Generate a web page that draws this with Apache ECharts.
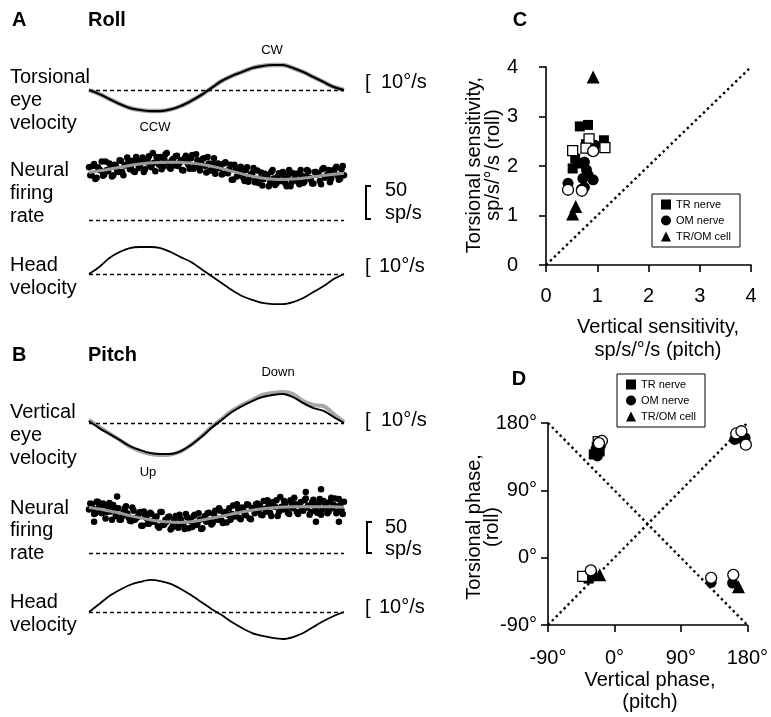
<!DOCTYPE html>
<html>
<head>
<meta charset="utf-8">
<script src="https://cdn.jsdelivr.net/npm/echarts@6.0.0/dist/echarts.min.js"></script>
<style>
html, body { margin: 0; padding: 0; background: #fff; }
#chart { width: 771px; height: 717px; }
</style>
</head>
<body>
<div id="chart"></div>
<script>
// sample positions (% of one stimulus cycle) of the eye / head traces
const tracePhase = [0,4,8,12,16,20,24,28,32,36,40,44,48,52,56,60,64,68,72,76,80,84,88,92,96,100];
// velocities in deg/s
const rollEye = [0,-2.2,-5,-7.8,-10,-11.1,-11.7,-11.7,-10.8,-8.9,-6.1,-2.8,1.1,5,7.8,10,12.2,13.3,13.9,13.9,12.2,10,7.2,4.4,1.7,0];
const rollHead = [0,3.9,8.9,12.2,14.4,15,15,14.4,12.2,9.4,6.7,2.8,-1.1,-5,-8.9,-12.2,-14.4,-16.1,-16.7,-16.7,-15.6,-13.3,-10,-6.7,-2.8,0];
const pitchEye = [1.1,-2.8,-6.1,-9.4,-12.8,-15,-16.7,-17.2,-17.2,-15.6,-12.2,-7.8,-2.8,1.7,6.1,9.4,12.2,14.4,15.6,16.1,14.4,11.1,8.3,6.7,3.3,0];
const pitchEyeRaw = [1.7,-2.2,-5.8,-9.4,-13.1,-15.6,-17.2,-17.8,-17.5,-15.8,-12.2,-7.5,-2.2,2.2,6.7,10,12.8,15.6,16.7,17.2,16.1,12.2,10,9.4,5,0.5];
const pitchHead = [0,4.4,8.9,12.2,15,16.7,17.8,17.2,15.6,12.8,9.4,5.6,1.7,-1.7,-5.6,-8.9,-11.7,-13.3,-14.4,-15,-13.9,-11.7,-8.3,-5,-2.2,0];

// fitted firing rate (sp/s)
const fitPhase = [0,5,10,15,20,25,30,35,40,45,50,55,60,65,70,75,80,85,90,95,100];
const rollFit = [73,76,79.5,83,86,88,89,89,87.5,85,81,76,71,66.5,63.5,62.5,63,65,67.5,70,72];
const pitchFit = [70,67,63,58.5,54,50.5,48,47,48,51,55,59,63,66.5,69,70.5,71,71,71,71,70.5];

// instantaneous firing rate, one value per 1% of the cycle (sp/s)
const rollRate = [81,69,86,65,78,90,70,77,87,67,
  85,77,92,74,84,96,78,91,74,89,
  84,96,78,93,84,103,75,89,97,82,
  101,88,79,94,98,83,92,76,99,85,
  95,79,101,81,86,95,73,87,76,95,
  79,86,70,87,73,78,62,85,67,80,
  72,60,81,65,72,58,76,64,53,71,
  66,57,77,54,67,60,74,56,69,52,
  72,63,59,77,57,67,75,62,56,74,
  72,55,80,67,77,64,73,82,62,78,
  69];
// second spike-rate sample, offset by half a step
const rollRate2 = [69,83,63,81,76,68,90,75,85,69,
  84,74,91,69,85,91,83,75,97,80,
  92,74,89,98,81,88,97,85,78,94,
  103,81,92,84,99,88,77,95,89,79,
  100,83,92,76,94,83,97,76,86,71,
  87,80,71,89,72,85,62,78,72,82,
  65,77,59,70,80,63,57,73,63,69,
  52,74,64,56,72,60,69,52,77,58,
  63,71,55,68,59,77,65,56,74,70,
  60,78,65,70,58,76,79,68,64,83];
const pitchRate = [67,75,60,79,71,61,74,63,77,51,
  68,69,51,56,69,61,50,70,51,55,
  63,42,59,45,62,49,54,41,63,43,
  51,55,36,46,57,39,52,44,60,38,
  49,57,43,61,37,53,48,62,44,60,
  53,69,50,61,47,69,60,56,75,54,
  70,61,75,53,69,61,76,73,58,68,
  81,62,78,71,57,86,67,77,62,81,
  69,75,60,78,65,84,73,63,82,68,
  76,59,80,71,64,85,74,61,83,66,
  79];
const pitchRate2 = [76,69,61,79,63,76,53,69,64,74,
  57,69,51,62,72,55,49,65,54,60,
  42,64,54,45,60,48,56,39,63,44,
  48,56,39,51,41,59,46,37,55,51,
  40,59,45,51,38,57,61,50,46,65,
  51,65,46,63,59,51,73,59,68,52,
  67,58,74,52,69,75,66,59,80,64,
  75,57,72,81,63,71,80,68,60,76,
  85,63,74,66,81,70,59,78,72,62,
  83,67,76,61,79,69,84,64,74,60];
const pitchRateExtra = [[11,87],[91,98],[85,94],[98,48],[89,48],[2,48]];

// C: [vertical sensitivity, torsional sensitivity]
const sensTR = [[0.66,2.8],[0.82,2.83],[1.13,2.52],[0.78,2.44],[0.57,2.15],[0.52,1.95],[0.62,2.05]];
const sensTROpen = [[0.84,2.55],[1.15,2.37],[0.52,2.31],[0.78,2.36]];
const sensOM = [[0.95,2.42],[0.75,2.08],[0.79,1.92],[0.82,1.82],[0.72,1.75],[0.92,1.72],[0.75,1.57],[0.69,1.53],[0.43,1.65]];
const sensOMOpen = [[0.92,2.3],[0.43,1.52],[0.7,1.5]];
const sensCell = [[0.92,3.8],[0.58,1.18],[0.52,1.03]];
const sensTicks = [0, 4];
const unityLine = [[0,0],[4,4]];

// D: [vertical phase, torsional phase] in deg
const phaseTR = [[-28,138],[-24,148],[-20,142],[167,162],[-35,-28],[-30,-24]];
const phaseTROpen = [[-22,155],[-43,-25]];
const phaseOM = [[-25,145],[-19,150],[-23,136],[163,158],[170,160],[177,160],[-33,-27],[131,-33],[160,-34]];
const phaseOMOpen = [[-17,156],[-21,153],[165,166],[172,169],[178,151],[-32,-17],[131,-27],[161,-23]];
const phaseCell = [[-20,-23],[168,-39]];
const phaseTicks = [-90, 180];
const phaseLineA = [[-90,-90],[180,180]];
const phaseLineB = [[-90,180],[180,-90]];

const FONT = "'Liberation Sans', Arial, Helvetica, sans-serif";
const chart = echarts.init(document.getElementById('chart'));

// trace panels: baseline pixel y for each grid
const traceBase = [90, 220, 274, 423, 553, 612];
const traceKind = ['eye', 'rate', 'eye', 'eye', 'rate', 'eye'];
const grids = [], xAxes = [], yAxes = [];
traceBase.forEach((b, i) => {
    if (traceKind[i] === 'eye') {
        grids.push({ left: 89, width: 255, top: b - 36, height: 72 });
        yAxes.push({ gridIndex: i, type: 'value', min: -20, max: 20, show: false });
    } else {
        grids.push({ left: 89, width: 255, top: b - 78, height: 78 });
        yAxes.push({ gridIndex: i, type: 'value', min: 0, max: 120, show: false });
    }
    xAxes.push({ gridIndex: i, type: 'value', min: 0, max: 100, show: false });
});

const axisBase = {
    type: 'value',
    splitLine: { show: false },
    axisLine: { show: true, onZero: false, lineStyle: { color: '#000', width: 1.6 } },
    axisTick: { show: true, length: 7, lineStyle: { color: '#000', width: 1.6 } },
};
// C
grids.push({ left: 546, top: 67, width: 205, height: 198 });
xAxes.push(Object.assign({}, axisBase, { gridIndex: 6, min: sensTicks[0], max: sensTicks[1], interval: 1,
    axisLabel: { margin: 21, fontSize: 20, color: '#000', fontFamily: FONT, showMinLabel: true, showMaxLabel: true } }));
yAxes.push(Object.assign({}, axisBase, { gridIndex: 6, min: sensTicks[0], max: sensTicks[1], interval: 1,
    axisLabel: { margin: 28, fontSize: 20, color: '#000', fontFamily: FONT, showMinLabel: true, showMaxLabel: true } }));
// D
grids.push({ left: 548, top: 423, width: 201, height: 202 });
xAxes.push(Object.assign({}, axisBase, { gridIndex: 7, min: phaseTicks[0], max: phaseTicks[1], interval: 90,
    axisLabel: { margin: 23, fontSize: 20, color: '#000', fontFamily: FONT, formatter: v => v + '°', showMinLabel: true, showMaxLabel: true } }));
yAxes.push(Object.assign({}, axisBase, { gridIndex: 7, min: phaseTicks[0], max: phaseTicks[1], interval: 90,
    axisLabel: { margin: 11, fontSize: 20, color: '#000', fontFamily: FONT, formatter: v => v + '°', showMinLabel: true, showMaxLabel: true } }));

const dashed = {
    symbol: 'none', silent: true, label: { show: false },
    lineStyle: { color: '#000', type: [4, 3], width: 1.3 },
    data: [{ yAxis: 0 }]
};
function trace(g, xs, ys, color, width, z, base) {
    const s = {
        type: 'line', xAxisIndex: g, yAxisIndex: g, z: z, smooth: 0.3, symbol: 'none',
        data: xs.map((x, i) => [x, ys[i]]),
        lineStyle: { color: color, width: width }
    };
    if (base) s.markLine = dashed;
    return s;
}
function dots(g, ys, ys2, extra) {
    let d = ys.map((v, i) => [i, v]).concat(ys2.map((v, i) => [i + 0.5, v]));
    if (extra) d = d.concat(extra);
    return {
        type: 'scatter', xAxisIndex: g, yAxisIndex: g, z: 2, symbolSize: 6.5,
        data: d, itemStyle: { color: '#000', opacity: 1 }
    };
}
function pts(g, name, data, symbol, size, open) {
    return {
        type: 'scatter', name: name, xAxisIndex: g, yAxisIndex: g, symbol: symbol, symbolSize: size,
        z: open ? 4 : 3, data: data,
        itemStyle: open ? { color: '#fff', borderColor: '#000', borderWidth: 1.3, opacity: 1 }
                        : { color: '#000', opacity: 1 }
    };
}
function diag(g, data) {
    return {
        type: 'line', xAxisIndex: g, yAxisIndex: g, z: 1, symbol: 'none', data: data,
        lineStyle: { color: '#000', width: 2.4, type: [2.4, 3.2] }
    };
}

const series = [
    trace(0, tracePhase, rollEye, '#a8a8a8', 4.5, 2, true),
    trace(0, tracePhase, rollEye, '#000', 2.2, 3),
    dots(1, rollRate, rollRate2),
    trace(1, fitPhase, rollFit, '#9a9a9a', 3, 3, true),
    trace(2, tracePhase, rollHead, '#000', 1.8, 3, true),
    trace(3, tracePhase, pitchEyeRaw, '#a8a8a8', 4, 2, true),
    trace(3, tracePhase, pitchEye, '#000', 2, 3),
    dots(4, pitchRate, pitchRate2, pitchRateExtra),
    trace(4, fitPhase, pitchFit, '#9a9a9a', 3, 3, true),
    trace(5, tracePhase, pitchHead, '#000', 1.8, 3, true),

    diag(6, unityLine),
    pts(6, 'TR nerve', sensTR, 'rect', 10, false),
    pts(6, 'TR nerve open', sensTROpen, 'rect', 10, true),
    pts(6, 'OM nerve', sensOM, 'circle', 11, false),
    pts(6, 'OM nerve open', sensOMOpen, 'circle', 11, true),
    pts(6, 'TR/OM cell', sensCell, 'triangle', 13, false),

    diag(7, phaseLineA),
    diag(7, phaseLineB),
    pts(7, 'TR nerve', phaseTR, 'rect', 10, false),
    pts(7, 'TR nerve open', phaseTROpen, 'rect', 10, true),
    pts(7, 'OM nerve', phaseOM, 'circle', 11, false),
    pts(7, 'OM nerve open', phaseOMOpen, 'circle', 11, true),
    pts(7, 'TR/OM cell', phaseCell, 'triangle', 13, false),
];

const legendItems = [
    { name: 'TR nerve', icon: 'rect' },
    { name: 'OM nerve', icon: 'circle' },
    { name: 'TR/OM cell', icon: 'triangle' }
];
const legendBase = {
    orient: 'vertical', data: legendItems, selectedMode: false,
    itemWidth: 10, itemHeight: 10, itemGap: 5,
    borderColor: '#000', borderWidth: 1, padding: [5, 9, 5, 9],
    textStyle: { fontSize: 11, color: '#000', fontFamily: FONT }
};

function txt(text, x, y, size, opt) {
    opt = opt || {};
    return {
        type: 'text', x: x, y: y, rotation: opt.rot || 0, silent: true,
        style: {
            text: text, fill: '#000', fontSize: size, fontFamily: FONT,
            fontWeight: opt.bold ? 'bold' : 'normal',
            align: opt.align || 'left', verticalAlign: 'middle',
            textAlign: opt.align || 'left', textVerticalAlign: 'middle'
        }
    };
}
const graphics = [
    txt('A', 12, 20, 20, { bold: true }), txt('Roll', 88, 20, 20, { bold: true }),
    txt('B', 12, 355, 20, { bold: true }), txt('Pitch', 88, 355, 20, { bold: true }),
    txt('C', 520, 20, 20, { bold: true, align: 'center' }),
    txt('D', 519, 379, 20, { bold: true, align: 'center' }),

    txt('Torsional', 10, 77, 20), txt('eye', 10, 100, 20), txt('velocity', 10, 123, 20),
    txt('Neural', 10, 170, 20), txt('firing', 10, 193, 20), txt('rate', 10, 216, 20),
    txt('Head', 10, 265, 20), txt('velocity', 10, 288, 20),
    txt('Vertical', 10, 412, 20), txt('eye', 10, 435, 20), txt('velocity', 10, 458, 20),
    txt('Neural', 10, 508, 20), txt('firing', 10, 530, 20), txt('rate', 10, 553, 20),
    txt('Head', 10, 602, 20), txt('velocity', 10, 625, 20),

    txt('CW', 272, 50, 13, { align: 'center' }), txt('CCW', 155, 127, 13, { align: 'center' }),
    txt('Down', 278, 372, 13, { align: 'center' }), txt('Up', 148, 472, 13, { align: 'center' }),

    txt('[', 365, 83, 20), txt('10°/s', 381, 82, 20),
    txt('[', 365, 267, 20), txt('10°/s', 379, 266, 20),
    txt('[', 365, 421, 20), txt('10°/s', 381, 420, 20),
    txt('[', 365, 608, 20), txt('10°/s', 379, 607, 20),
    { type: 'polyline', silent: true, shape: { points: [[371, 186], [366, 186], [366, 219], [371, 219]] },
      style: { stroke: '#000', lineWidth: 2, fill: null } },
    txt('50', 385, 190, 20), txt('sp/s', 385, 213, 20),
    { type: 'polyline', silent: true, shape: { points: [[372, 522], [367, 522], [367, 553], [372, 553]] },
      style: { stroke: '#000', lineWidth: 2, fill: null } },
    txt('50', 385, 527, 20), txt('sp/s', 385, 549, 20),

    txt('Torsional sensitivity,', 474, 165, 20, { align: 'center', rot: Math.PI / 2 }),
    txt('sp/s/°/s (roll)', 493, 165, 20, { align: 'center', rot: Math.PI / 2 }),
    txt('Vertical sensitivity,', 658, 327, 20, { align: 'center' }),
    txt('sp/s/°/s (pitch)', 658, 350, 20, { align: 'center' }),
    txt('Torsional phase,', 474, 527, 20, { align: 'center', rot: Math.PI / 2 }),
    txt('(roll)', 492, 527, 20, { align: 'center', rot: Math.PI / 2 }),
    txt('Vertical phase,', 650, 680, 20, { align: 'center' }),
    txt('(pitch)', 650, 702, 20, { align: 'center' }),
];

chart.setOption({
    animation: false,
    backgroundColor: '#fff',
    grid: grids,
    xAxis: xAxes,
    yAxis: yAxes,
    legend: [
        Object.assign({ left: 652, top: 194 }, legendBase),
        Object.assign({ left: 617, top: 374 }, legendBase)
    ],
    graphic: graphics,
    series: series
});
</script>
</body>
</html>
